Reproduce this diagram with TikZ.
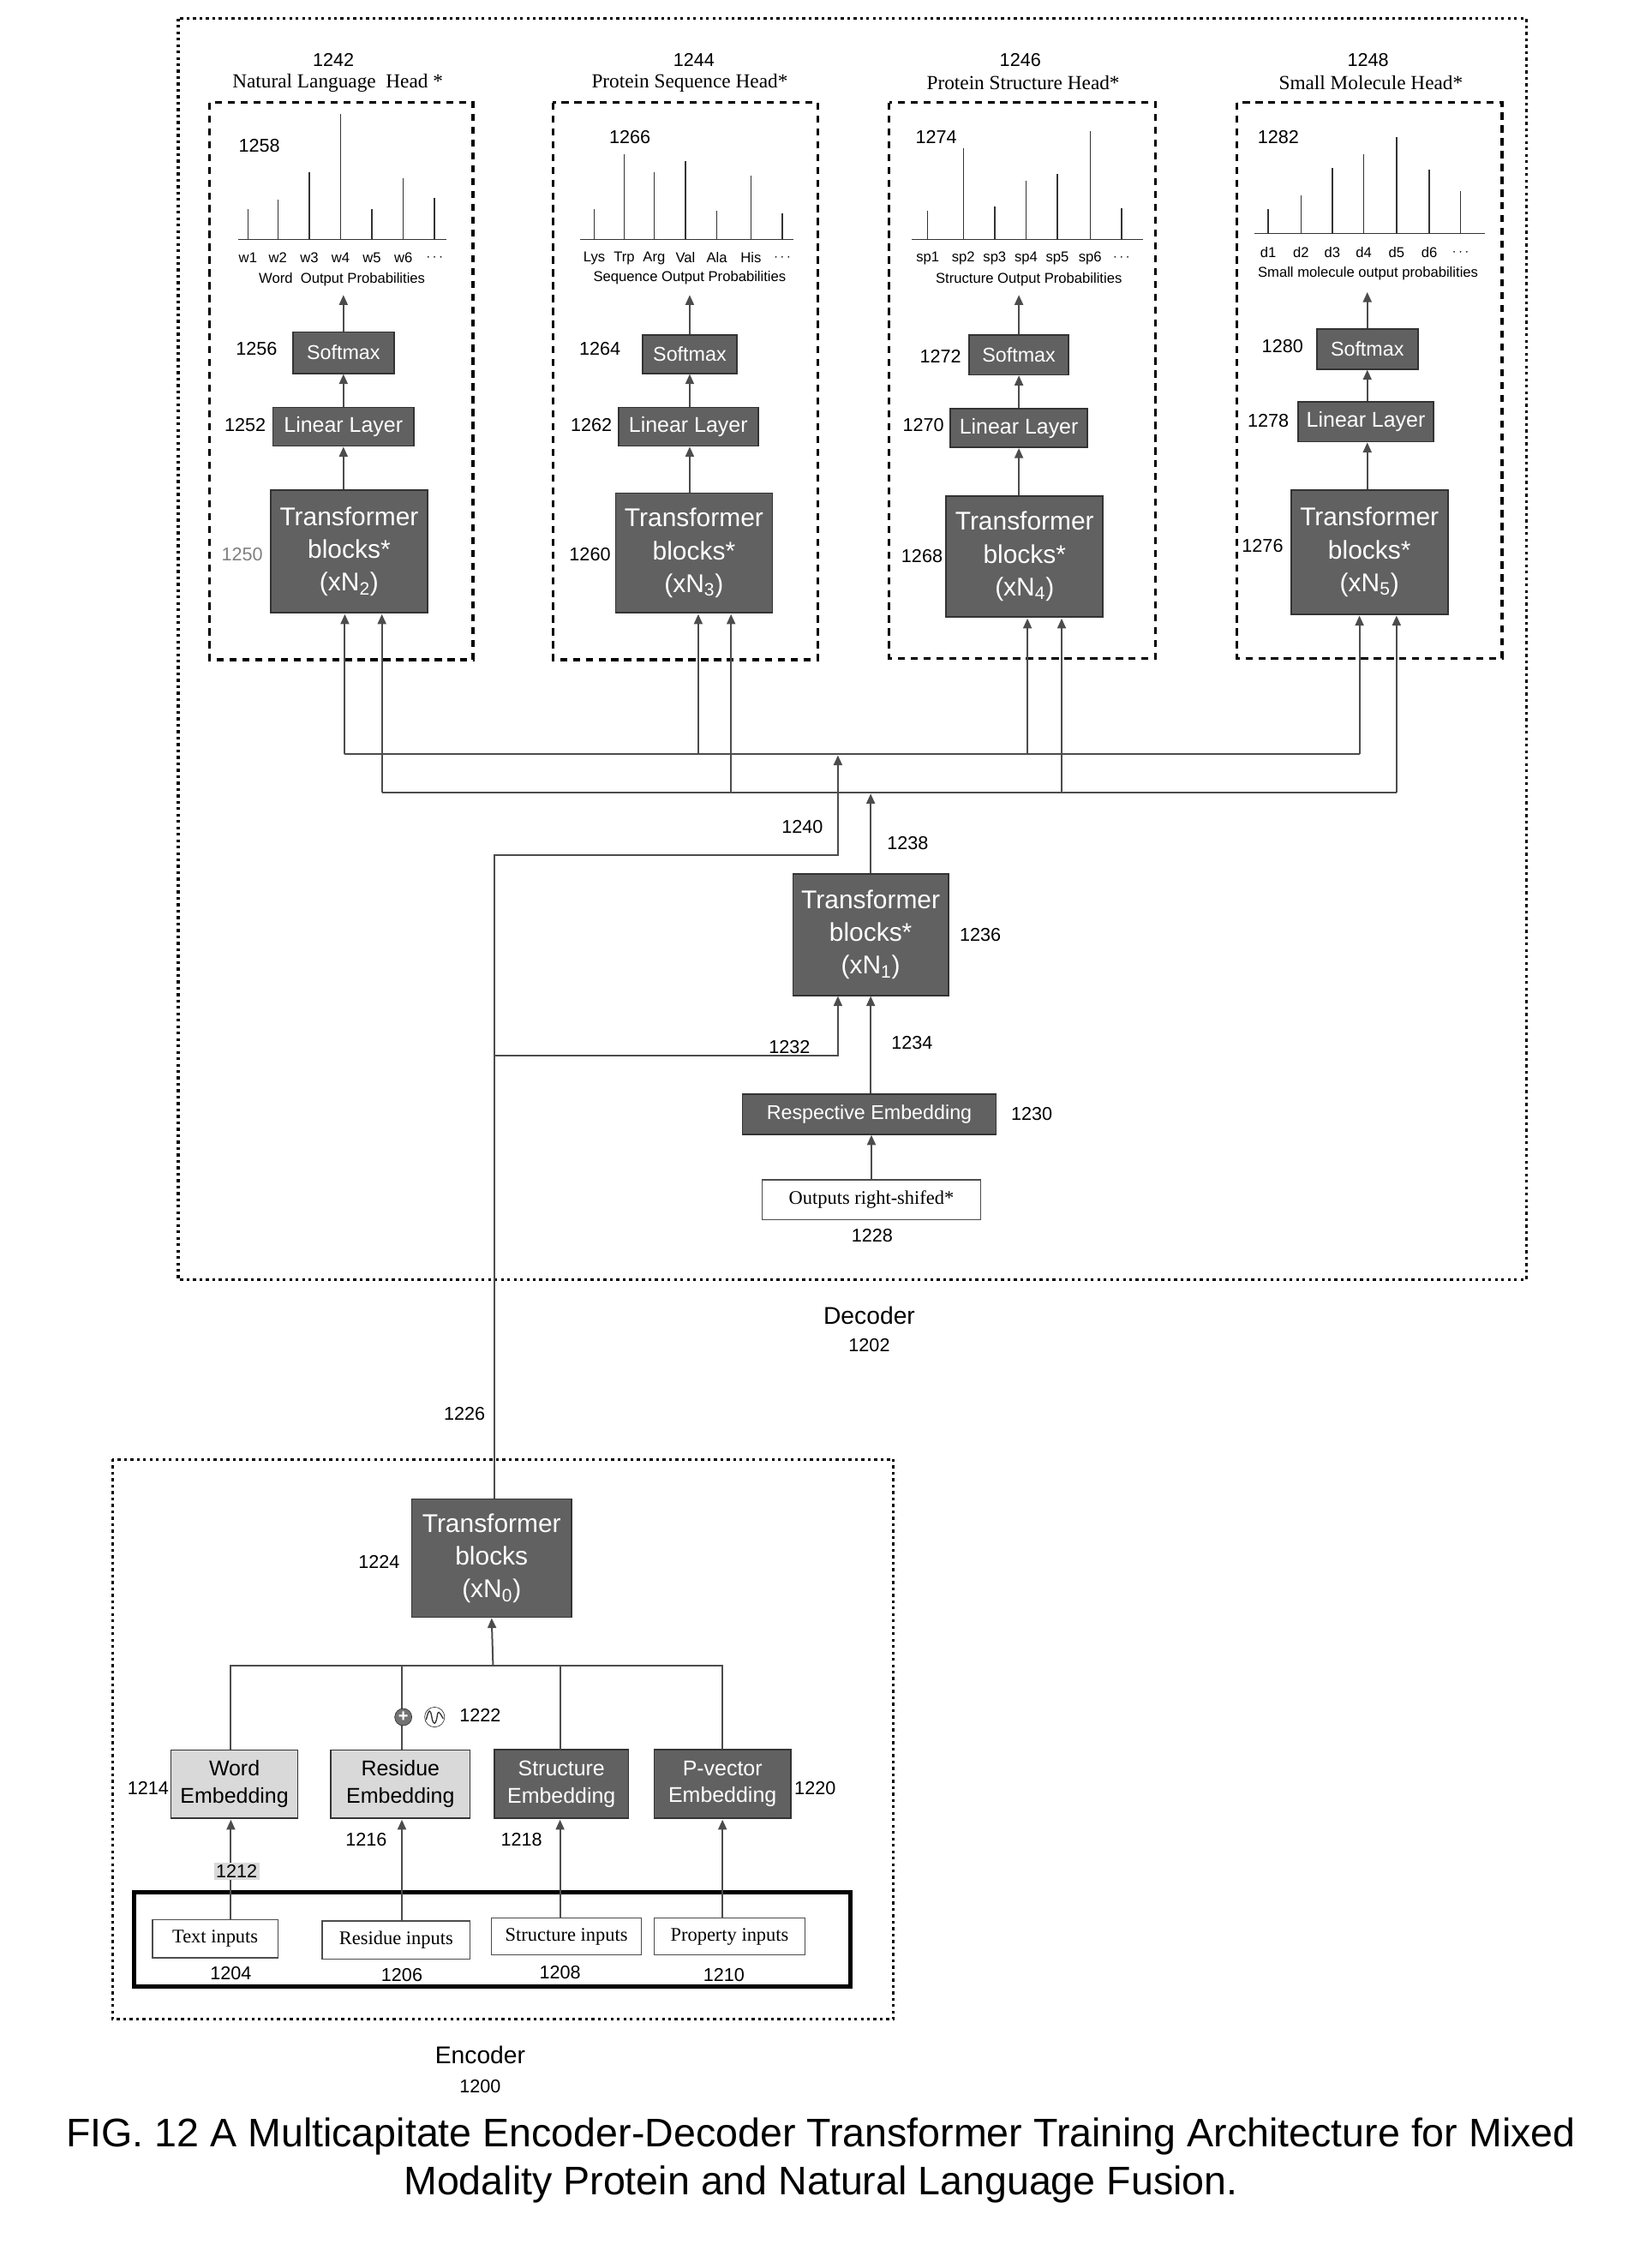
\documentclass[tikz,border=0pt]{standalone}
\usepackage{fontspec}
\setmainfont{Liberation Serif}
\setsansfont{Liberation Sans}
\usetikzlibrary{arrows.meta}
\begin{document}
\begin{tikzpicture}[x=1pt,y=-1pt,
  ln/.style={draw=black!70,line width=1.2pt},
  arr/.style={ln,-{Triangle[length=7pt,width=6pt]}},
  dark/.style={draw=black!80,fill=black!62,text=white,font=\sffamily,inner sep=0pt,line width=1pt},
  light/.style={draw=black!80,fill=black!15,text=black,font=\sffamily,inner sep=0pt,line width=0.8pt},
  inp/.style={draw=black!70,fill=white,font=\rmfamily\fontsize{13.5}{15}\selectfont,inner sep=0pt,line width=0.8pt},
  lbl/.style={font=\sffamily\fontsize{13}{15}\selectfont,inner sep=0pt},
  ttl/.style={font=\rmfamily\fontsize{14}{16}\selectfont,inner sep=0pt},
  tick/.style={font=\sffamily\fontsize{10}{11}\selectfont,inner sep=0pt},
  hbox/.style={draw=black,line width=2pt,dash pattern=on 5pt off 4pt},
  tb/.style={dark,align=center,font=\sffamily\fontsize{18}{23}\selectfont},
  bar/.style={draw=black!80,line width=0.9pt}]
\useasboundingbox (0,0) rectangle (1159,1579);
% decoder box
\draw[line width=2pt,dash pattern=on 2pt off 2.5pt] (125,13) rectangle (1071,898);
% heads
\draw[hbox] (147,72) rectangle (332,463);
\draw[hbox] (388,72) rectangle (574,463);
\draw[hbox] (624,72) rectangle (811,462);
\draw[hbox] (868,72) rectangle (1054,462);
\node[lbl] (n1242) at (234,42) {1242};
\node[ttl] (t1) at (237,58) {Natural Language\ \ Head *};
\node[lbl] (n1244) at (487,42) {1244};
\node[ttl] (t2) at (484,58) {Protein Sequence Head*};
\node[lbl] (n1246) at (716,42) {1246};
\node[ttl] (t3) at (718,58) {Protein Structure Head*};
\node[lbl] (n1248) at (960,42) {1248};
\node[ttl] (t4) at (962,58) {Small Molecule Head*};
% charts
\draw[bar] (167,168) -- (313,168);
\foreach \x/\t/\l in {174/147/w1,195/140/w2,217/121/w3,239/80/w4,261/147/w5,283/125/w6,305/139/{$\cdots$}}
  {\draw[bar] (\x,168) -- (\x,\t); \node[tick] at (\x,181) {\l};}
\node[tick] (c1) at (240,196) {Word\ \ Output Probabilities};
\node[lbl] (n1258) at (182,102) {1258};
\draw[bar] (407,168) -- (557,168);
\foreach \x/\t/\l in {417/147/Lys,438/108/Trp,459/121/Arg,481/113/Val,503/148/Ala,527/123/His,549/150/{$\cdots$}}
  {\draw[bar] (\x,168) -- (\x,\t); \node[tick] at (\x,181) {\l};}
\node[tick] (c2) at (484,195) {Sequence Output Probabilities};
\node[lbl] (n1266) at (442,96) {1266};
\draw[bar] (640,168) -- (802,168);
\foreach \x/\t/\l in {651/148/sp1,676/104/sp2,698/145/sp3,720/127/sp4,742/122/sp5,765/92/sp6,787/146/{$\cdots$}}
  {\draw[bar] (\x,168) -- (\x,\t); \node[tick] at (\x,181) {\l};}
\node[tick] (c3) at (722,196) {Structure Output Probabilities};
\node[lbl] (n1274) at (657,96) {1274};
\draw[bar] (880,164) -- (1042,164);
\foreach \x/\t/\l in {890/147/d1,913/137/d2,935/118/d3,957/108/d4,980/96/d5,1003/119/d6,1025/134/{$\cdots$}}
  {\draw[bar] (\x,164) -- (\x,\t); \node[tick] at (\x,177) {\l};}
\node[tick] (c4) at (960,192) {Small molecule output probabilities};
\node[lbl] (n1282) at (897,96) {1282};
% head 1 blocks
\node[dark,minimum width=71pt,minimum height=29pt,font=\sffamily\fontsize{14}{16}\selectfont] (sm1) at (241,247.5) {Softmax};
\node[dark,minimum width=99pt,minimum height=27pt,font=\sffamily\fontsize{15}{17}\selectfont] (li1) at (241,299.5) {Linear Layer};
\node[tb,minimum width=110pt,minimum height=86pt] (tr1) at (245,387) {Transformer\\blocks*\\(xN\textsubscript{2})};
\node[lbl] at (180,245) {1256};
\node[lbl] at (172,298) {1252};
\node[lbl,text=black!50] at (170,389) {1250};
% head 2
\node[dark,minimum width=66pt,minimum height=27pt,font=\sffamily\fontsize{14}{16}\selectfont] (sm2) at (484,248.5) {Softmax};
\node[dark,minimum width=98pt,minimum height=27pt,font=\sffamily\fontsize{15}{17}\selectfont] (li2) at (483,299.5) {Linear Layer};
\node[tb,minimum width=110pt,minimum height=84pt] (tr2) at (487,388) {Transformer\\blocks*\\(xN\textsubscript{3})};
\node[lbl] at (421,245) {1264};
\node[lbl] at (415,298) {1262};
\node[lbl] at (414,389) {1260};
% head 3
\node[dark,minimum width=70pt,minimum height=28pt,font=\sffamily\fontsize{14}{16}\selectfont] (sm3) at (715,249) {Softmax};
\node[dark,minimum width=96pt,minimum height=27pt,font=\sffamily\fontsize{15}{17}\selectfont] (li3) at (715,300.5) {Linear Layer};
\node[tb,minimum width=110pt,minimum height=85pt] (tr3) at (719,390.5) {Transformer\\blocks*\\(xN\textsubscript{4})};
\node[lbl] at (660,250) {1272};
\node[lbl] at (648,298) {1270};
\node[lbl] at (647,390) {1268};
% head 4
\node[dark,minimum width=71pt,minimum height=28pt,font=\sffamily\fontsize{14}{16}\selectfont] (sm4) at (959.5,245) {Softmax};
\node[dark,minimum width=95pt,minimum height=28pt,font=\sffamily\fontsize{15}{17}\selectfont] (li4) at (958.5,296) {Linear Layer};
\node[tb,minimum width=110pt,minimum height=87pt] (tr4) at (961,387.5) {Transformer\\blocks*\\(xN\textsubscript{5})};
\node[lbl] at (900,243) {1280};
\node[lbl] at (890,295) {1278};
\node[lbl] at (886,383) {1276};
% head arrows
\coordinate (o1) at (241,207); \coordinate (o2) at (484,207);
\coordinate (o3) at (715,207); \coordinate (o4) at (960,205);
\foreach \i in {1,2,3,4}{
  \draw[arr] (sm\i.north |- sm\i.north) -- (sm\i.north |- o\i);
  \draw[arr] (sm\i.south |- li\i.north) -- (sm\i.south);
  \draw[arr] (sm\i.south |- tr\i.north) -- (sm\i.south |- li\i.south);}
% buses
\coordinate (ua) at (242,529); \coordinate (ub) at (954,529);
\coordinate (la) at (268,556); \coordinate (lb) at (980,556);
\draw[ln] (ua) -- (ub);
\draw[ln] (la) -- (lb);
\draw[arr] (242,529) -- (242,431);
\draw[arr] (268,556) -- (268,431);
\draw[arr] (490,529) -- (490,431);
\draw[arr] (513,556) -- (513,431);
\draw[arr] (721,529) -- (721,434);
\draw[arr] (745,556) -- (745,434);
\draw[arr] (954,529) -- (954,432);
\draw[arr] (980,556) -- (980,432);
% centre
\node[tb,minimum width=109pt,minimum height=85pt] (trc) at (611,656) {Transformer\\blocks*\\(xN\textsubscript{1})};
\node[lbl] at (688,656) {1236};
\node[dark,minimum width=178pt,minimum height=28pt,font=\sffamily\fontsize{14}{16}\selectfont] (emb) at (610,782) {Respective Embedding};
\node[lbl] at (724,782) {1230};
\node[inp,minimum width=153pt,minimum height=28pt] (outs) at (611.5,842) {Outputs right-shifed*};
\node[lbl] at (612,867) {1228};
\draw[arr] (outs.north) -- (outs.north |- emb.south);
\draw[arr] (emb.north -| trc.south) -- (trc.south);
\draw[arr] (347,1052) -- (347,600) -- (588,600) -- (588,530);
\draw[arr] (347,741) -- (588,741) -- (588,699);
\draw[arr] (trc.north) -- (611,557);
\node[lbl] at (563,580) {1240};
\node[lbl] at (637,592) {1238};
\node[lbl] at (554,735) {1232};
\node[lbl] at (640,732) {1234};
\node[lbl] at (326,992) {1226};
\node[font=\sffamily\fontsize{17}{19}\selectfont] at (610,923) {Decoder};
\node[lbl] at (610,944) {1202};
% encoder
\draw[line width=1.8pt,dash pattern=on 2pt off 2.5pt] (79,1024) rectangle (627,1417);
\node[tb,minimum width=112pt,minimum height=83pt] (tre) at (345,1093.5) {Transformer\\blocks\\(xN\textsubscript{0})};
\node[lbl] at (266,1096) {1224};
\node[light,align=center,minimum width=89pt,minimum height=48pt,font=\sffamily\fontsize{15}{19}\selectfont] (we) at (164.5,1252) {Word\\Embedding};
\node[light,align=center,minimum width=98pt,minimum height=48pt,font=\sffamily\fontsize{15}{19}\selectfont] (re) at (281,1252) {Residue\\Embedding};
\node[dark,align=center,minimum width=94pt,minimum height=48pt,font=\sffamily\fontsize{15}{19}\selectfont] (se) at (394,1252) {Structure\\Embedding};
\node[dark,align=center,minimum width=96pt,minimum height=48pt,font=\sffamily\fontsize{15}{19}\selectfont] (pe) at (507,1252) {P-vector\\Embedding};
\node[lbl] at (104,1255) {1214};
\node[lbl] at (257,1291) {1216};
\node[lbl] at (366,1291) {1218};
\node[lbl] at (572,1255) {1220};
\draw[ln] (162,1228) -- (162,1169) -- (507,1169) -- (507,1228);
\draw[ln] (282,1228) -- (282,1169);
\draw[ln] (393,1228) -- (393,1169);
\draw[arr] (346,1169) -- (tre.south);
\node[circle,draw=black!80,fill=black!55,inner sep=0pt,minimum size=12pt,text=white,font=\sffamily\bfseries\fontsize{12}{12}\selectfont] (plus) at (283,1205) {+};
\node[circle,draw=black!80,fill=white,inner sep=0pt,minimum size=14pt] (wave) at (305,1205) {};
\draw[black!80,line width=0.8pt] (299,1207) .. controls (301,1199) and (302,1199) .. (303,1205) .. controls (304,1211) and (306,1211) .. (307,1203) .. controls (308,1199) and (310,1205) .. (311,1206);
\node[lbl] at (337,1204) {1222};
\draw[line width=3pt] (94,1328) rectangle (597,1394);
\node[inp,minimum width=88pt,minimum height=27pt] (ti) at (151,1360.5) {Text inputs};
\node[inp,minimum width=104pt,minimum height=27pt] (ri) at (278,1361.5) {Residue inputs};
\node[inp,minimum width=105pt,minimum height=26pt] (si) at (397.5,1359) {Structure inputs};
\node[inp,minimum width=106pt,minimum height=26pt] (pi) at (512,1359) {Property inputs};
\node[lbl] at (162,1385) {1204};
\node[lbl] at (282,1386) {1206};
\node[lbl] at (393,1384) {1208};
\node[lbl] at (508,1386) {1210};
\draw[arr] (162,1347) -- (162,1277);
\draw[arr] (282,1348) -- (282,1277);
\draw[arr] (393,1346) -- (393,1277);
\draw[arr] (507,1346) -- (507,1277);
\node[lbl,fill=black!15,inner sep=1.5pt] at (166,1313) {1212};
\node[font=\sffamily\fontsize{17}{19}\selectfont] at (337,1442) {Encoder};
\node[lbl] at (337,1464) {1200};
\node[font=\sffamily\fontsize{28}{34}\selectfont,align=center] (cap) at (576,1516) {FIG. 12 A Multicapitate Encoder-Decoder Transformer Training Architecture for Mixed\\Modality Protein and Natural Language Fusion.};
\end{tikzpicture}
\end{document}
